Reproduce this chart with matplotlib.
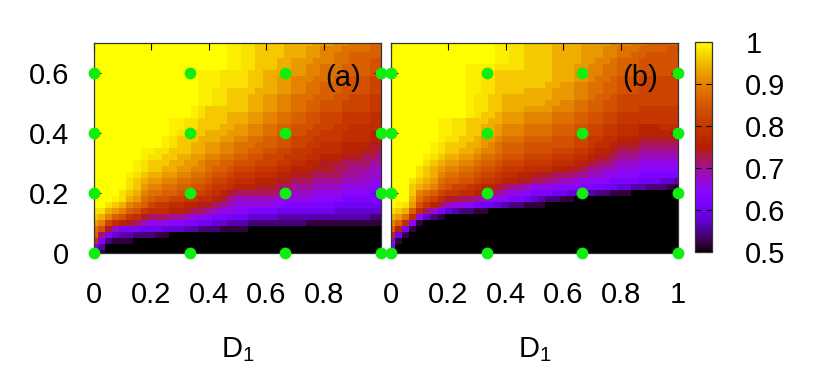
import numpy as np
import matplotlib
matplotlib.use("Agg")
import matplotlib.pyplot as plt

plt.rcParams['font.family'] = ['Liberation Sans', 'DejaVu Sans']
plt.rcParams['mathtext.fontset'] = 'custom'
plt.rcParams['mathtext.rm'] = 'Liberation Sans'

# sampling grid of the two maps
d1 = np.arange(41) * 0.025          # D1, columns
d2 = np.arange(36) * 0.02           # vertical parameter, rows (0 .. 0.7)

# cell values, one string per row (bottom row first).
# letter = level, a=0.50, b=0.52, ... z=1.00 ; capital = half a step above
# the lower-case letter ; a trailing number repeats it
letters = 'abcdefghijklmnopqrstuvwxyz'
level_of = {c: 0.5 + 0.02 * i for i, c in enumerate(letters)}
level_of.update({c.upper(): v + 0.01 for c, v in level_of.items()})

rows_a = [
    "d b a39",
    "g d a39",
    "p g c b3 a35",
    "s l g e d2 c3 b2 a30",
    "t r m j g3 f3 e3 d2 c3 b4 a19",
    "v u q o n m l j i3 h2 g2 f2 e2 d3 c8 b11",
    "x w u s r p o m l3 k2 j i2 h g2 f3 e4 d13 c2",
    "y2 w v u s r p o3 n2 m l2 k j i2 h2 g4 f8 e7",
    "z2 y x w u t s q p2 o2 n2 m2 l k j i5 h2 g7 f7",
    "z3 Y y w v t s r2 q2 p2 o2 n m k j6 i5 h4 g6",
    "z4 y x w u t2 s2 r2 q2 p o n m l6 k2 j3 i4 h4 g2",
    "z5 y x v u2 t2 s2 r2 q p2 o n3 m3 l2 k3 j4 i4 h2",
    "z5 y x w v2 u2 t2 s2 r q2 p o3 n3 m2 l3 k4 j4 i2",
    "z5 Y y x w2 v2 u2 t2 s r2 q p3 o3 n2 m3 l4 k3 j2 i",
    "z6 Y y x2 w2 v2 u2 t s2 r q3 p3 o2 n3 m3 l2 k3 j2",
    "z6 Y y x3 w2 v2 u t2 s2 r3 q3 p2 o2 n2 m3 l4 k2",
    "z7 Y y2 x2 w2 v2 u2 t2 s2 r2 q3 p3 o2 n3 m3 l2 k",
    "z7 Y2 y2 x3 w2 v2 u2 t2 s2 r2 q2 p3 o4 n3 m2 l",
    "z10 Y y x2 w2 v2 u2 t3 s3 r2 q2 p2 o3 n4 m2",
    "z10 Y y x3 w3 v2 u2 t2 s2 r2 q3 p4 o4 n2",
    "z11 Y y2 x2 w3 v3 u2 t2 s2 r2 q2 p3 o4 n2",
    "z11 Y2 y2 x3 w2 v2 u2 t2 s2 r3 q3 p2 o5",
    "z11 Y2 y2 x4 w3 v2 u2 t2 s2 r2 q3 p4 o2",
    "z14 Y y x3 w3 v2 u2 t2 s2 r2 q3 p4 o2",
    "z14 Y y x6 w2 v2 u2 t2 s2 r3 q4 p2",
    "z15 Y2 y2 x3 w2 v2 u2 t2 s2 r3 q4 p2",
    "z15 Y2 y2 x3 w2 v2 u2 t3 s3 r2 q3 p2",
    "z15 Y2 y2 x4 w3 v2 u2 t2 s3 r4 q2",
    "z15 Y3 y4 x2 w2 v2 u2 t2 s3 r4 q2",
    "z15 Y3 y4 x2 w2 v2 u3 t3 s2 r3 q2",
    "z15 Y3 y4 x2 w3 v3 u2 t3 s4 r2",
    "z19 Y2 y2 x3 w2 v2 u2 t3 s4 r2",
    "z19 Y2 y2 x3 w2 v3 u3 t2 s3 r2",
    "z19 Y2 y2 x4 w3 v2 u2 t2 s5",
    "z19 Y2 y2 x4 w3 v2 u3 t4 s2",
    "z19 Y2 y2 x4 w4 v3 u2 t3 s2",
]

rows_b = [
    "e a40",
    "g a40",
    "i b a39",
    "o f b a38",
    "s n g b a37",
    "u s o h b a36",
    "w v t o i e c b a33",
    "y x w s o l j g e d c2 b2 a27",
    "z Y y v r p n l j i2 h g f2 e d c2 b3 a19",
    "z3 w t r q o m2 l2 k j i2 h g2 f e d c2 b2 a15",
    "z3 x u t s q p2 o2 n m l k j i2 h g3 f2 e2 d2 c2 b3 a7",
    "z3 x w v u s r q2 p o n2 m l k2 j i3 h4 g3 f2 e2 d2 c3 b2",
    "z3 y x w v t s2 r2 q p2 o n2 m2 l2 k2 j2 i2 h3 g4 f3 e2 d",
    "z4 y x w u t2 s2 r q2 p o2 n2 m3 l3 k2 j2 i2 h3 g6",
    "z4 y x w v u2 t2 s r2 q p3 o4 n2 m2 l k2 j2 i3 h6",
    "z5 y x w v2 u2 t s2 r q3 p4 o3 n2 m l2 k j3 i6",
    "z5 Y y x w2 v2 u t2 s r3 q4 p3 o2 n m2 l k3 j6",
    "z6 Y y x2 w2 v u2 t s3 r4 q3 p2 o n2 m l3 k6",
    "z6 Y y x3 w2 v u t s3 r7 q2 p o2 n m3 l6",
    "z7 Y y2 x2 w v2 u t3 s4 r3 q2 p2 o2 n3 m6",
    "z7 Y2 y2 x2 w2 v u3 t4 s3 r2 q2 p2 o3 n6",
    "z7 Y2 y2 x2 w2 v u3 t4 s3 r2 q2 p2 o3 n3 o3",
    "z7 Y2 y2 x3 w2 v3 u4 t3 s2 r2 q2 p9",
    "z11 Y y x2 w v3 u4 t3 s2 r2 q2 p9",
    "z11 Y y2 x2 w3 v4 u3 t2 s2 r2 q3 p6",
    "z11 Y y2 x2 w6 v2 u2 t2 s2 r2 q9",
    "z11 Y y2 x2 w7 v3 u2 t s2 r q9",
    "z11 Y2 y2 x4 w4 v3 u2 t2 s2 r3 q6",
    "z11 Y2 y2 x7 w2 v2 u2 t2 s2 r3 q6",
    "z11 Y2 y2 x8 w3 v2 u t2 s r3 q6",
    "z11 Y2 y2 x8 w3 v2 u2 t2 s3 r6",
    "z11 Y4 y4 x4 w3 v2 u2 t2 s3 r6",
    "z15 Y2 y2 x4 w4 v2 u2 t s3 r6",
    "z15 Y2 y2 x4 w4 v3 u2 t2 s2 r5",
    "z15 Y2 y2 x4 w4 v3 u2 t3 s4 r2",
    "z15 Y2 y2 x4 w4 v4 u3 t2 s5",
]

# green markers
dot_x = [0.0, 0.333, 0.667, 1.0]
dot_y = [0.0, 0.2, 0.4, 0.6]

panel_tags = ['(a)', '(b)']
cb_ticks = [0.5, 0.6, 0.7, 0.8, 0.9, 1.0]
cb_labels = ['0.5', '0.6', '0.7', '0.8', '0.9', '1']


def decode(rows):
    grid = []
    for row in rows:
        vals = []
        for tok in row.split():
            n = int(tok[1:]) if len(tok) > 1 else 1
            vals += [level_of[tok[0]]] * n
        if len(vals) != len(d1):
            raise ValueError("bad row %r (%d)" % (row, len(vals)))
        grid.append(vals)
    return np.array(grid)


maps = [decode(rows_a), decode(rows_b)]

W, H = 830, 373
fig = plt.figure(figsize=(W / 100, H / 100), dpi=100)
ax_a = fig.add_axes([94 / W, 120 / H, 287 / W, 210 / H])
ax_b = fig.add_axes([391 / W, 120 / H, 287 / W, 210 / H])
cax = fig.add_axes([695 / W, 121 / H, 17 / W, 210 / H])

fs = 21
gx, gy = np.meshgrid(dot_x, dot_y)
for i, (ax, z) in enumerate(zip([ax_a, ax_b], maps)):
    mesh = ax.pcolormesh(d1, d2, z, cmap='gnuplot', vmin=0.5, vmax=1.0,
                         shading='nearest', rasterized=True)
    ax.scatter(gx.ravel(), gy.ravel(), s=72, color='#10ee10', linewidths=0,
               clip_on=False, zorder=5)
    ax.set_xlim(0, 1)
    ax.set_ylim(0, 0.7)
    if i == 0:
        ax.set_xticks([0, 0.2, 0.4, 0.6, 0.8])
        ax.set_xticklabels(['0', '0.2', '0.4', '0.6', '0.8'])
        ax.set_yticks([0, 0.2, 0.4, 0.6])
        ax.set_yticklabels(['0', '0.2', '0.4', '0.6'])
    else:
        ax.set_xticks([0, 0.2, 0.4, 0.6, 0.8, 1.0])
        ax.set_xticklabels(['0', '0.2', '0.4', '0.6', '0.8', '1'])
        ax.set_yticks([0, 0.2, 0.4, 0.6])
        ax.set_yticklabels([])
    ax.tick_params(direction='in', length=5, width=0.8, top=True, right=True,
                   labelsize=fs)
    ax.tick_params(axis='x', pad=20)
    ax.tick_params(axis='y', pad=18)
    ax.set_xlabel(r'$\mathregular{D_1}$', fontsize=fs, labelpad=19)
    ax.text(0.868, 0.835, panel_tags[i], transform=ax.transAxes, fontsize=fs,
            ha='center', va='center', zorder=6)
    for sp in ax.spines.values():
        sp.set_linewidth(0.9)
        sp.set_color('#333333')

cb = fig.colorbar(mesh, cax=cax, ticks=cb_ticks)
cb.ax.set_yticklabels(cb_labels)
cb.ax.tick_params(direction='in', length=4, width=0.8, left=True, right=True,
                  labelsize=fs, pad=24)
cb.outline.set_linewidth(0.9)
cb.outline.set_edgecolor('#333333')

fig.savefig('out.png', dpi=100)
